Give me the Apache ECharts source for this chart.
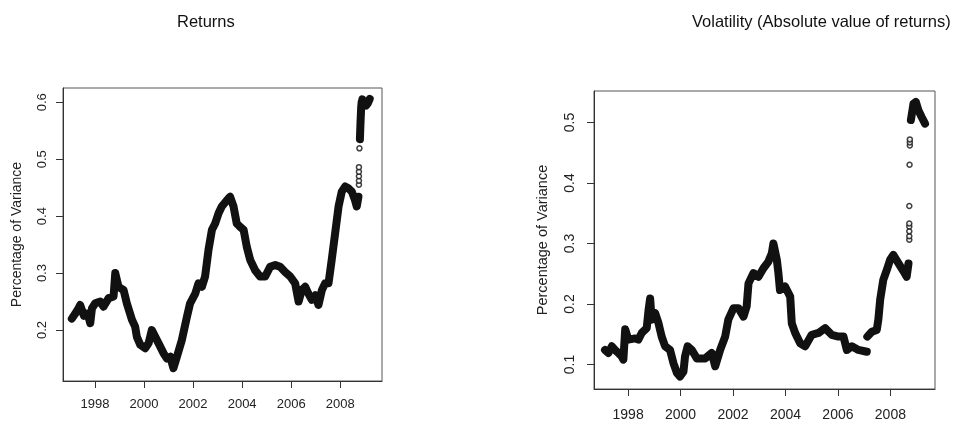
<!DOCTYPE html>
<html>
<head>
<meta charset="utf-8">
<script src="https://cdn.jsdelivr.net/npm/echarts@6/dist/echarts.min.js"></script>
<style>
html,body{margin:0;padding:0;background:#fff;}
#chart{width:958px;height:423px;}
</style>
</head>
<body>
<div id="chart"></div>
<script>
// ---- Data ----
const yearTicks = [1998, 2000, 2002, 2004, 2006, 2008];
const returnsTicks = [0.2, 0.3, 0.4, 0.5, 0.6];
const volTicks = [0.1, 0.2, 0.3, 0.4, 0.5];

// Returns: main dense run
const retYearsA = [1997.06,1997.20,1997.33,1997.40,1997.47,1997.55,1997.61,1997.70,1997.81,1997.88,1998.01,1998.22,1998.35,1998.56,1998.76,1998.83,1998.96,1999.17,1999.30,1999.51,1999.64,1999.71,1999.85,2000.05,2000.19,2000.32,2000.46,2000.59,2000.80,2000.93,2001.07,2001.20,2001.34,2001.54,2001.75,2001.88,2002.09,2002.22,2002.36,2002.49,2002.63,2002.77,2002.90,2003.04,2003.17,2003.38,2003.51,2003.65,2003.78,2003.92,2004.06,2004.19,2004.33,2004.53,2004.73,2004.94,2005.14,2005.35,2005.55,2005.75,2005.96,2006.16,2006.30,2006.43,2006.57,2006.70,2006.84,2006.98,2007.11,2007.25,2007.38,2007.52,2007.65,2007.79,2007.93,2008.06,2008.20,2008.33,2008.47,2008.60,2008.67,2008.74];
const retValuesA = [0.220,0.229,0.238,0.244,0.241,0.225,0.223,0.229,0.212,0.238,0.247,0.250,0.241,0.256,0.259,0.300,0.276,0.270,0.247,0.218,0.206,0.188,0.174,0.168,0.177,0.200,0.188,0.177,0.159,0.150,0.153,0.133,0.153,0.182,0.223,0.247,0.264,0.282,0.276,0.294,0.341,0.376,0.387,0.405,0.417,0.428,0.434,0.417,0.387,0.381,0.376,0.346,0.323,0.305,0.294,0.294,0.311,0.314,0.311,0.302,0.294,0.282,0.250,0.270,0.276,0.264,0.253,0.261,0.244,0.270,0.282,0.282,0.323,0.370,0.417,0.443,0.452,0.449,0.443,0.428,0.417,0.434];
// Returns: top run after the 2008 jump
const retYearsB = [2008.80,2008.82,2008.85,2008.87,2008.90,2008.95,2009.05,2009.12,2009.20];
const retValuesB = [0.535,0.560,0.590,0.600,0.605,0.595,0.594,0.598,0.606];
// Returns: isolated points in the jump
const retYearsC = [2008.76,2008.76,2008.76,2008.76,2008.76,2008.78];
const retValuesC = [0.455,0.462,0.470,0.478,0.486,0.519];

// Volatility: first dense run
const volYearsA = [1997.12,1997.25,1997.38,1997.50,1997.63,1997.76,1997.82,1997.89,1998.01,1998.27,1998.39,1998.52,1998.71,1998.78,1998.84,1998.90,1999.03,1999.16,1999.28,1999.41,1999.60,1999.73,1999.86,1999.98,2000.11,2000.17,2000.27,2000.43,2000.62,2000.94,2001.19,2001.32,2001.51,2001.70,2001.82,2002.02,2002.21,2002.40,2002.52,2002.59,2002.78,2002.97,2003.16,2003.35,2003.48,2003.54,2003.67,2003.73,2003.79,2003.98,2004.18,2004.24,2004.37,2004.56,2004.75,2005.00,2005.26,2005.51,2005.76,2006.02,2006.21,2006.34,2006.53,2006.78,2007.10];
const volValuesA = [0.124,0.119,0.130,0.124,0.119,0.113,0.108,0.158,0.141,0.143,0.141,0.152,0.160,0.190,0.209,0.174,0.185,0.168,0.146,0.130,0.124,0.102,0.086,0.080,0.088,0.113,0.130,0.124,0.110,0.110,0.119,0.097,0.124,0.146,0.174,0.193,0.193,0.179,0.196,0.234,0.251,0.245,0.259,0.270,0.284,0.300,0.273,0.251,0.223,0.229,0.212,0.168,0.152,0.135,0.130,0.149,0.152,0.160,0.149,0.146,0.146,0.124,0.130,0.124,0.121];
// Volatility: second dense run
const volYearsB = [2007.12,2007.29,2007.48,2007.54,2007.61,2007.73,2007.86,2007.99,2008.11,2008.31,2008.50,2008.62,2008.69];
const volValuesB = [0.146,0.154,0.157,0.174,0.207,0.240,0.256,0.273,0.281,0.267,0.254,0.245,0.267];
// Volatility: top run
const volYearsC = [2008.78,2008.84,2008.88,2008.97,2009.07,2009.19,2009.32];
const volValuesC = [0.504,0.520,0.531,0.534,0.520,0.509,0.498];
// Volatility: isolated points in the jump
const volYearsD = [2008.72,2008.72,2008.72,2008.72,2008.72,2008.72,2008.73,2008.74,2008.74,2008.74];
const volValuesD = [0.306,0.312,0.320,0.328,0.333,0.362,0.430,0.462,0.467,0.472];

// ---- Build chart ----
const pair = (xs, ys) => xs.map((x, i) => [x, ys[i]]);
const FONT = '"Liberation Sans", Arial, sans-serif';
const INK = '#111';

function lineSeries(idx, xs, ys) {
  return {
    type: 'line', xAxisIndex: idx, yAxisIndex: idx,
    data: pair(xs, ys), showSymbol: false, symbol: 'none',
    lineStyle: { color: INK, width: 8, cap: 'round', join: 'round' },
    animation: false, silent: true
  };
}
function dotSeries(idx, xs, ys) {
  return {
    type: 'scatter', xAxisIndex: idx, yAxisIndex: idx,
    data: pair(xs, ys), symbol: 'circle', symbolSize: 5,
    itemStyle: { color: '#fff', borderColor: INK, borderWidth: 1.5 },
    animation: false, silent: true
  };
}
function xAxis(idx, fs, margin) {
  return {
    type: 'value', gridIndex: idx, min: 1996.7, max: 2009.7,
    splitLine: { show: false },
    axisLine: { show: true, lineStyle: { color: '#333', width: 1 } },
    axisTick: { show: true, length: 7, customValues: yearTicks, lineStyle: { color: '#333' } },
    axisLabel: { customValues: yearTicks, fontSize: fs, color: '#222', fontFamily: FONT, margin: margin,
                 formatter: v => String(v) }
  };
}
function yAxis(idx, min, max, ticks, fs, nameGap, nameFs, margin) {
  return {
    type: 'value', gridIndex: idx, min: min, max: max,
    splitLine: { show: false },
    axisLine: { show: true, lineStyle: { color: '#333', width: 1 } },
    axisTick: { show: true, length: 7, customValues: ticks, lineStyle: { color: '#333' } },
    axisLabel: { customValues: ticks, rotate: 90, fontSize: fs, color: '#222', fontFamily: FONT, margin: margin,
                 formatter: v => v.toFixed(1) },
    name: 'Percentage of Variance', nameLocation: 'middle', nameGap: nameGap,
    nameTextStyle: { fontSize: nameFs, color: '#222', fontFamily: FONT }
  };
}

const chart = echarts.init(document.getElementById('chart'), null, { renderer: 'canvas' });
chart.setOption({
  backgroundColor: '#fff',
  animation: false,
  title: [
    { text: 'Returns', left: 172, top: 9, textStyle: { fontSize: 16.5, fontWeight: 'normal', color: '#111', fontFamily: FONT } },
    { text: 'Volatility (Absolute value of returns)', left: 687, top: 9, textStyle: { fontSize: 16.5, fontWeight: 'normal', color: '#111', fontFamily: FONT } }
  ],
  grid: [
    { left: 63, top: 88, width: 319, height: 293, show: true, borderColor: '#555', borderWidth: 1, backgroundColor: 'transparent' },
    { left: 594, top: 91, width: 341, height: 298, show: true, borderColor: '#555', borderWidth: 1, backgroundColor: 'transparent' }
  ],
  xAxis: [xAxis(0, 13, 17), xAxis(1, 14, 19)],
  yAxis: [
    yAxis(0, 0.1105, 0.625, returnsTicks, 13, 39, 14, 14),
    yAxis(1, 0.0594, 0.552, volTicks, 14, 44, 14.5, 17)
  ],
  series: [
    lineSeries(0, retYearsA, retValuesA),
    lineSeries(0, retYearsB, retValuesB),
    dotSeries(0, retYearsC, retValuesC),
    lineSeries(1, volYearsA, volValuesA),
    lineSeries(1, volYearsB, volValuesB),
    lineSeries(1, volYearsC, volValuesC),
    dotSeries(1, volYearsD, volValuesD)
  ]
});
</script>
</body>
</html>
